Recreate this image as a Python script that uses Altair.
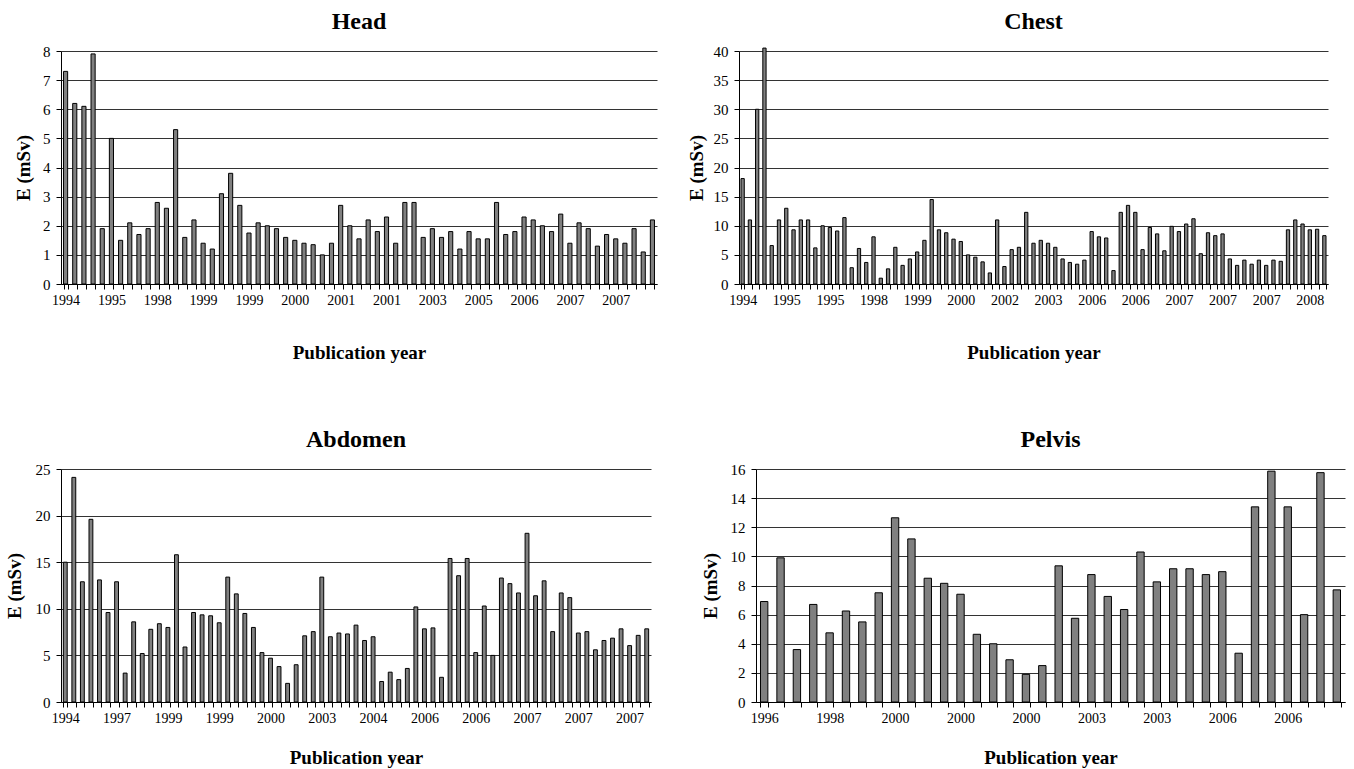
import altair as alt
import pandas as pd

# Effective dose per study, in the order the studies are listed (by publication year)
head_E = [7.3, 6.2, 6.1, 7.9, 1.9, 5.0, 1.5, 2.1, 1.7, 1.9,
          2.8, 2.6, 5.3, 1.6, 2.2, 1.4, 1.2, 3.1, 3.8, 2.7,
          1.75, 2.1, 2.0, 1.9, 1.6, 1.5, 1.4, 1.35, 1.0, 1.4,
          2.7, 2.0, 1.55, 2.2, 1.8, 2.3, 1.4, 2.8, 2.8, 1.6,
          1.9, 1.6, 1.8, 1.2, 1.8, 1.55, 1.55, 2.8, 1.7, 1.8,
          2.3, 2.2, 2.0, 1.8, 2.4, 1.4, 2.1, 1.9, 1.3, 1.7,
          1.55, 1.4, 1.9, 1.1, 2.2]
head_years = ["1994", "1995", "1998", "1999", "1999", "2000", "2001",
              "2001", "2003", "2005", "2006", "2007", "2007"]

chest_E = [18.1, 11.0, 30.0, 40.5, 6.6, 11.0, 13.0, 9.3, 11.0, 11.0,
           6.2, 10.0, 9.7, 9.1, 11.4, 2.8, 6.1, 3.7, 8.1, 1.0,
           2.6, 6.3, 3.2, 4.3, 5.5, 7.5, 14.5, 9.3, 8.8, 7.7,
           7.3, 5.0, 4.6, 3.8, 1.9, 11.0, 3.0, 5.9, 6.3, 12.3,
           7.0, 7.5, 7.0, 6.3, 4.3, 3.7, 3.4, 4.1, 9.0, 8.1,
           7.9, 2.3, 12.3, 13.5, 12.3, 5.9, 9.7, 8.6, 5.7, 9.9,
           9.0, 10.3, 11.2, 5.2, 8.8, 8.3, 8.6, 4.3, 3.2, 4.1,
           3.4, 4.1, 3.2, 4.1, 3.9, 9.3, 11.0, 10.3, 9.3, 9.4,
           8.3]
chest_years = ["1994", "1995", "1995", "1998", "1999", "2000", "2002",
               "2003", "2006", "2006", "2007", "2007", "2007", "2008"]

abdomen_E = [15.0, 24.1, 12.9, 19.6, 13.1, 9.6, 12.9, 3.1, 8.6, 5.2,
             7.8, 8.4, 8.0, 15.8, 5.9, 9.6, 9.35, 9.25, 8.5, 13.4,
             11.6, 9.5, 8.0, 5.3, 4.7, 3.8, 2.0, 4.0, 7.1, 7.55,
             13.4, 7.0, 7.4, 7.3, 8.25, 6.6, 7.0, 2.2, 3.2, 2.4,
             3.6, 10.2, 7.85, 7.95, 2.65, 15.4, 13.55, 15.4, 5.3, 10.3,
             5.0, 13.3, 12.7, 11.7, 18.1, 11.4, 13.0, 7.55, 11.7, 11.2,
             7.4, 7.55, 5.6, 6.6, 6.85, 7.85, 6.05, 7.15, 7.85]
abdomen_years = ["1994", "1997", "1999", "1999", "2000", "2003",
                 "2004", "2006", "2006", "2007", "2007", "2007"]

pelvis_E = [6.9, 9.9, 3.6, 6.7, 4.75, 6.25, 5.5, 7.5, 12.65, 11.2,
            8.5, 8.15, 7.4, 4.65, 4.0, 2.9, 1.9, 2.5, 9.35, 5.75,
            8.75, 7.25, 6.35, 10.3, 8.25, 9.15, 9.15, 8.75, 8.95, 3.35,
            13.4, 15.85, 13.4, 6.0, 15.75, 7.7]
pelvis_years = ["1996", "1998", "2000", "2000", "2000", "2003",
                "2003", "2006", "2006"]

FONT = "Liberation Serif"


def panel(title, values, years, every, ymax, ystep, width,
          y_title_pad, x_title_pad):
    df = pd.DataFrame({"study": list(range(len(values))), "E": values})
    year_list = "[" + ",".join(f"'{y}'" for y in years) + "]"
    label_expr = (f"datum.value % {every} == 0 ? "
                  f"{year_list}[datum.value / {every}] : ''")
    return (
        alt.Chart(df, title=alt.Title(title, font=FONT, fontSize=24,
                                      fontWeight="bold", offset=10))
        .mark_bar(color="#808080", stroke="black", strokeWidth=1)
        .encode(
            x=alt.X(
                "study:O",
                scale=alt.Scale(paddingInner=0.55, paddingOuter=0.275),
                axis=alt.Axis(
                    title="Publication year", labelExpr=label_expr,
                    labelAngle=0, labelOverlap=False, tickBand="extent",
                    tickSize=5, labelPadding=4,
                    labelFont=FONT, labelFontSize=14,
                    titleFont=FONT, titleFontSize=19, titleFontWeight="bold",
                    titlePadding=x_title_pad,
                ),
            ),
            y=alt.Y(
                "E:Q",
                scale=alt.Scale(domain=[0, ymax], nice=False),
                axis=alt.Axis(
                    title="E (mSv)", values=list(range(0, ymax + 1, ystep)),
                    grid=True, gridColor="#333333", tickSize=5,
                    labelPadding=6, labelFont=FONT, labelFontSize=15,
                    titleFont=FONT, titleFontSize=19, titleFontWeight="bold",
                    titlePadding=y_title_pad,
                ),
            ),
        )
        .properties(width=width, height=233)
    )


head = panel("Head", head_E, head_years, 5, 8, 1, 596, 9, 36)
chest = panel("Chest", chest_E, chest_years, 6, 40, 5, 589, 7, 36)
abdomen = panel("Abdomen", abdomen_E, abdomen_years, 6, 25, 5, 590, 11, 23)
pelvis = panel("Pelvis", pelvis_E, pelvis_years, 4, 16, 2, 589, 10, 23)

top = alt.hconcat(head, chest, spacing=82, bounds="flush")
bottom = alt.hconcat(abdomen, pelvis, spacing=105, bounds="flush")

# with flush bounds the rows are stacked top-to-top by the spacing value
chart = (
    alt.vconcat(top, bottom, spacing=418, bounds="flush")
    .properties(padding={"left": 5, "top": 10, "right": 5, "bottom": 5},
                background="white")
    .configure_view(stroke=None)
    .configure_axis(
        labelColor="black", titleColor="black",
        domainColor="black", tickColor="black",
    )
)

chart.save("out.html", embed_options={"renderer": "svg", "actions": False})
